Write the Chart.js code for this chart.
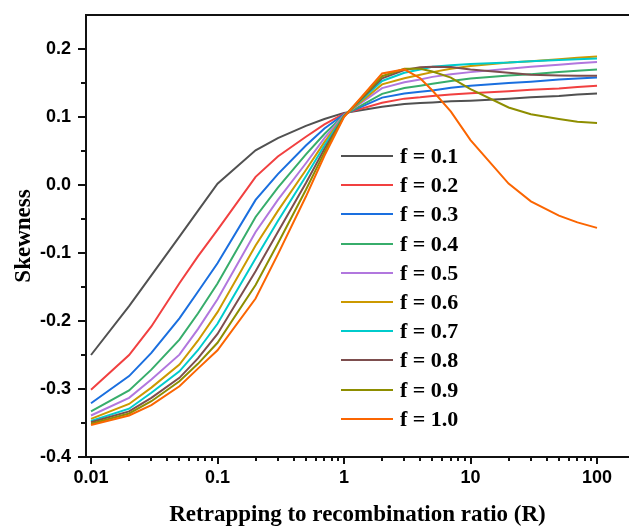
<!DOCTYPE html>
<html lang="en">
<head>
  <meta charset="UTF-8">
  <title>Skewness vs retrapping to recombination ratio</title>
  <script src="https://cdn.jsdelivr.net/npm/chart.js"></script>
  <style>
    html, body { margin: 0; padding: 0; background: #fff; }
    #wrap { width: 629px; height: 529px; }
  </style>
</head>
<body>
  <div id="wrap"><canvas id="skewChart"></canvas></div>
  <script>
    // Retrapping to recombination ratio R (log axis)
    const ratioR = [0.01, 0.02, 0.03, 0.05, 0.07, 0.1, 0.2, 0.3, 0.5, 0.7, 1, 2, 3, 4, 5, 7, 10, 20, 30, 50, 70, 100];

    // Skewness curves, one per f
    const skewF01 = [-0.250, -0.178, -0.133, -0.076, -0.038, 0.002, 0.051, 0.069, 0.087, 0.097, 0.106, 0.115, 0.119, 0.1205, 0.1215, 0.123, 0.124, 0.127, 0.129, 0.131, 0.133, 0.1345];
    const skewF02 = [-0.301, -0.250, -0.208, -0.1445, -0.105, -0.066, 0.012, 0.042, 0.071, 0.089, 0.105, 0.121, 0.127, 0.129, 0.131, 0.133, 0.135, 0.138, 0.140, 0.142, 0.144, 0.146];
    const skewF03 = [-0.321, -0.281, -0.247, -0.196, -0.157, -0.115, -0.022, 0.016, 0.058, 0.083, 0.104, 0.1285, 0.1345, 0.137, 0.139, 0.143, 0.146, 0.150, 0.152, 0.155, 0.1565, 0.158];
    const skewF04 = [-0.333, -0.302, -0.2715, -0.2275, -0.189, -0.145, -0.047, -0.004, 0.045, 0.075, 0.103, 0.134, 0.1425, 0.146, 0.149, 0.153, 0.1565, 0.161, 0.163, 0.166, 0.168, 0.170];
    const skewF05 = [-0.339, -0.313, -0.286, -0.2495, -0.212, -0.168, -0.069, -0.022, 0.032, 0.069, 0.103, 0.1425, 0.151, 0.155, 0.159, 0.163, 0.166, 0.171, 0.174, 0.177, 0.179, 0.181];
    const skewF06 = [-0.344, -0.322, -0.298, -0.264, -0.229, -0.187, -0.089, -0.038, 0.022, 0.063, 0.102, 0.148, 0.157, 0.162, 0.166, 0.171, 0.175, 0.180, 0.182, 0.185, 0.187, 0.189];
    const skewF07 = [-0.347, -0.329, -0.3056, -0.274, -0.243, -0.204, -0.108, -0.053, 0.013, 0.058, 0.102, 0.153, 0.165, 0.170, 0.174, 0.176, 0.178, 0.180, 0.182, 0.184, 0.185, 0.186];
    const skewF08 = [-0.349, -0.333, -0.313, -0.2836, -0.255, -0.219, -0.127, -0.069, 0.003, 0.053, 0.101, 0.157, 0.169, 0.173, 0.174, 0.1735, 0.170, 0.165, 0.162, 0.161, 0.1605, 0.1605];
    const skewF09 = [-0.351, -0.336, -0.318, -0.2886, -0.263, -0.232, -0.147, -0.086, -0.007, 0.048, 0.101, 0.160, 0.171, 0.171, 0.167, 0.158, 0.141, 0.114, 0.104, 0.097, 0.093, 0.091];
    const skewF10 = [-0.353, -0.339, -0.3237, -0.296, -0.270, -0.243, -0.167, -0.102, -0.017, 0.043, 0.100, 0.164, 0.170, 0.157, 0.139, 0.108, 0.066, 0.002, -0.024, -0.045, -0.055, -0.063];

    const seriesLabels = ['f = 0.1', 'f = 0.2', 'f = 0.3', 'f = 0.4', 'f = 0.5', 'f = 0.6', 'f = 0.7', 'f = 0.8', 'f = 0.9', 'f = 1.0'];
    const seriesValues = [skewF01, skewF02, skewF03, skewF04, skewF05, skewF06, skewF07, skewF08, skewF09, skewF10];
    const seriesColors = ['#515151', '#F14040', '#1A6FDF', '#37AD6B', '#B177DE', '#CC9900', '#00CBCC', '#7D4E4E', '#8E8E00', '#FB6501'];

    // Axis ticks
    const xMajorTicks = [0.01, 0.1, 1, 10, 100];
    const yMajorTicks = [-0.4, -0.3, -0.2, -0.1, 0.0, 0.1, 0.2];
    const yMinorTicks = [-0.35, -0.25, -0.15, -0.05, 0.05, 0.15];
    const xMinorTicks = [];
    [0.01, 0.1, 1, 10].forEach(d => { for (let k = 2; k <= 9; k++) xMinorTicks.push(+(d * k).toPrecision(3)); });

    const axisColor = '#111';
    const tickFont = { family: "'Liberation Sans', Arial, sans-serif", size: 18, weight: 'bold' };
    const titleFont = { family: "'Liberation Serif', 'Times New Roman', serif", size: 23, weight: 'bold' };

    const datasets = seriesValues.map((vals, i) => ({
      label: seriesLabels[i],
      data: ratioR.map((r, j) => ({ x: r, y: vals[j] })),
      borderColor: seriesColors[i],
      backgroundColor: seriesColors[i],
      borderWidth: 2,
      pointRadius: 0,
      tension: 0,
      fill: false,
      order: seriesValues.length - i   // later f drawn on top
    }));

    // Outward tick marks: long on majors, short on minors
    const tickMarks = {
      id: 'tickMarks',
      afterDraw(chart) {
        const { ctx, scales: { x, y } } = chart;
        ctx.save();
        ctx.strokeStyle = axisColor;
        ctx.lineWidth = 2;
        const mark = (x1, y1, x2, y2) => { ctx.beginPath(); ctx.moveTo(x1, y1); ctx.lineTo(x2, y2); ctx.stroke(); };
        xMajorTicks.forEach(v => { const p = Math.round(x.getPixelForValue(v)); mark(p, x.top, p, x.top + 7); });
        xMinorTicks.forEach(v => { const p = Math.round(x.getPixelForValue(v)); mark(p, x.top, p, x.top + 4); });
        yMajorTicks.forEach(v => { const p = Math.round(y.getPixelForValue(v)); mark(y.right, p, y.right - 8, p); });
        yMinorTicks.forEach(v => { const p = Math.round(y.getPixelForValue(v)); mark(y.right, p, y.right - 5, p); });
        // top frame line
        const { chartArea } = chart;
        mark(chartArea.left - 1, chartArea.top, chartArea.right, chartArea.top);
        ctx.restore();
      }
    };

    // Legend placed inside the plot, one row per curve
    const insideLegend = {
      id: 'insideLegend',
      afterDatasetsDraw(chart) {
        const { ctx, chartArea } = chart;
        const lineX = chartArea.left + 255;
        const textX = chartArea.left + 314;
        ctx.save();
        ctx.font = `bold 22px ${titleFont.family}`;
        ctx.textBaseline = 'middle';
        ctx.fillStyle = '#000';
        chart.data.datasets.forEach((ds, i) => {
          const yy = Math.round(chartArea.top + 141 + i * 29.2);
          ctx.strokeStyle = ds.borderColor;
          ctx.lineWidth = 2;
          ctx.beginPath();
          ctx.moveTo(lineX, yy);
          ctx.lineTo(lineX + 52, yy);
          ctx.stroke();
          ctx.fillText(ds.label, textX, yy + 1);
        });
        ctx.restore();
      }
    };

    new Chart(document.getElementById('skewChart'), {
      type: 'line',
      data: { datasets },
      plugins: [tickMarks, insideLegend],
      options: {
        responsive: true,
        maintainAspectRatio: false,
        animation: false,
        layout: { padding: { top: 15, right: 0, bottom: 0, left: 0 } },
        plugins: { legend: { display: false }, tooltip: { enabled: false } },
        scales: {
          x: {
            type: 'logarithmic',
            min: 0.00913,
            max: 179,
            afterBuildTicks: s => { s.ticks = xMajorTicks.map(v => ({ value: v })); },
            afterFit: s => { s.height = 72; },
            ticks: { color: '#000', font: tickFont, padding: 3, autoSkip: false, maxRotation: 0, callback: v => String(v) },
            grid: { display: true, drawOnChartArea: false, drawTicks: true, tickLength: 7, color: 'rgba(0,0,0,0)' },
            border: { display: true, color: axisColor, width: 2 },
            title: { display: true, text: 'Retrapping to recombination ratio (R)', color: '#000', font: titleFont, padding: { top: 0, bottom: 0 } }
          },
          y: {
            type: 'linear',
            min: -0.4,
            max: 0.25,
            afterBuildTicks: s => { s.ticks = yMajorTicks.map(v => ({ value: v })); },
            afterFit: s => { s.width = 86; },
            ticks: { color: '#000', font: tickFont, padding: 3, callback: v => v.toFixed(1) },
            grid: { display: true, drawOnChartArea: false, drawTicks: true, tickLength: 12, color: 'rgba(0,0,0,0)' },
            border: { display: true, color: axisColor, width: 2 },
            title: { display: true, text: 'Skewness', color: '#000', font: titleFont, padding: { top: 10, bottom: 0 } }
          }
        }
      }
    });
  </script>
</body>
</html>
